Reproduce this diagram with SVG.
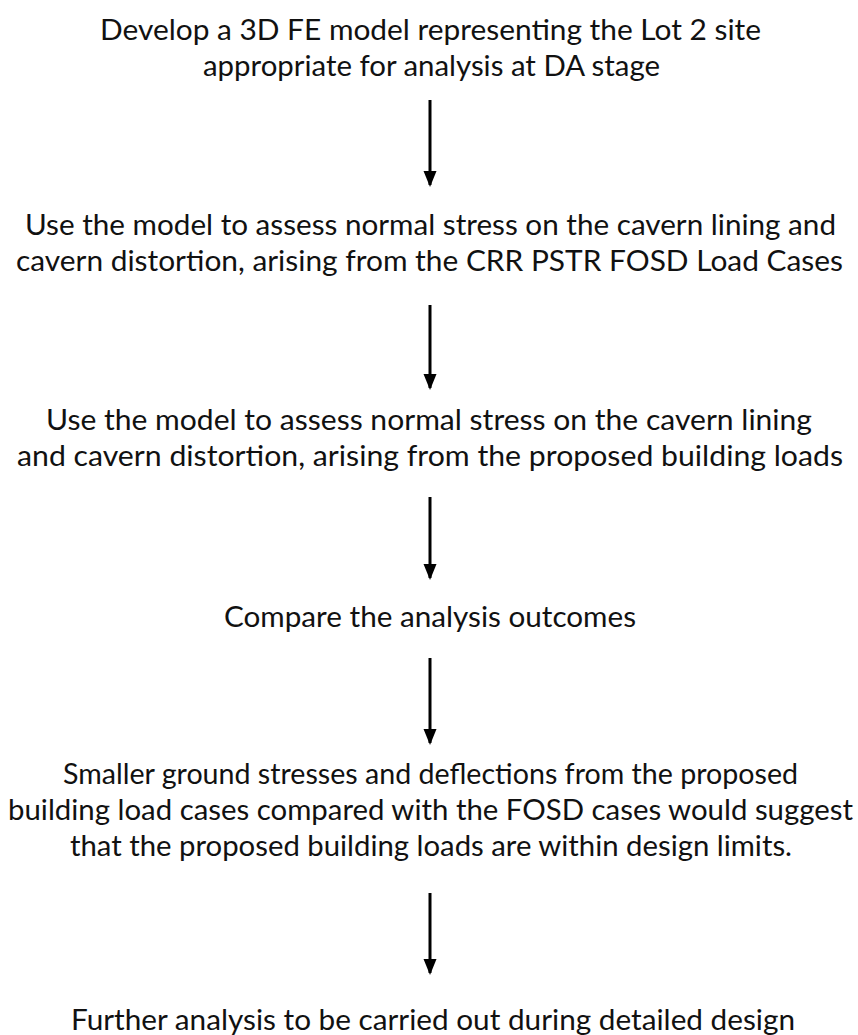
<svg xmlns="http://www.w3.org/2000/svg" width="858" height="1035" viewBox="0 0 858 1035">
<style>
text{font-family:"Lato","Open Sans","Liberation Sans",sans-serif;font-size:28px;fill:#111;text-anchor:middle}
.c line{stroke:#000;stroke-width:3}
</style>
<defs>
<marker id="ah" markerUnits="userSpaceOnUse" markerWidth="16" markerHeight="14" refX="14" refY="6.5" orient="auto" viewBox="0 0 16 13">
<path d="M0,0 L16,6.5 L0,13 Z" fill="#000"/>
</marker>
</defs>
<rect width="858" height="1035" fill="#fff"/>
<g id="n1">
<text x="430.5" y="40" textLength="661" lengthAdjust="spacingAndGlyphs">Develop a 3D FE model representing the Lot 2 site</text>
<text x="431.5" y="76" textLength="457" lengthAdjust="spacingAndGlyphs">appropriate for analysis at DA stage</text>
</g>
<g id="n2">
<text x="430.5" y="235" textLength="811" lengthAdjust="spacingAndGlyphs">Use the model to assess normal stress on the cavern lining and</text>
<text x="429.5" y="271" textLength="827" lengthAdjust="spacingAndGlyphs">cavern distortion, arising from the CRR PSTR FOSD Load Cases</text>
</g>
<g id="n3">
<text x="429" y="430" textLength="766" lengthAdjust="spacingAndGlyphs">Use the model to assess normal stress on the cavern lining</text>
<text x="430" y="466" textLength="826" lengthAdjust="spacingAndGlyphs">and cavern distortion, arising from the proposed building loads</text>
</g>
<g id="n4">
<text x="430" y="627" textLength="412" lengthAdjust="spacingAndGlyphs">Compare the analysis outcomes</text>
</g>
<g id="n5">
<text x="430.5" y="784" textLength="735" lengthAdjust="spacingAndGlyphs">Smaller ground stresses and deflections from the proposed</text>
<text x="430.5" y="820" textLength="845" lengthAdjust="spacingAndGlyphs">building load cases compared with the FOSD cases would suggest</text>
<text x="431" y="856" textLength="722" lengthAdjust="spacingAndGlyphs">that the proposed building loads are within design limits.</text>
</g>
<g id="n6">
<text x="433" y="1030" textLength="724" lengthAdjust="spacingAndGlyphs">Further analysis to be carried out during detailed design</text>
</g>
<g class="c" id="connectors">
<line x1="430" y1="100" x2="430" y2="185" marker-end="url(#ah)"/>
<line x1="430" y1="305" x2="430" y2="388" marker-end="url(#ah)"/>
<line x1="430" y1="497" x2="430" y2="578" marker-end="url(#ah)"/>
<line x1="430" y1="658" x2="430" y2="743" marker-end="url(#ah)"/>
<line x1="430" y1="893" x2="430" y2="973" marker-end="url(#ah)"/>
</g>
</svg>
